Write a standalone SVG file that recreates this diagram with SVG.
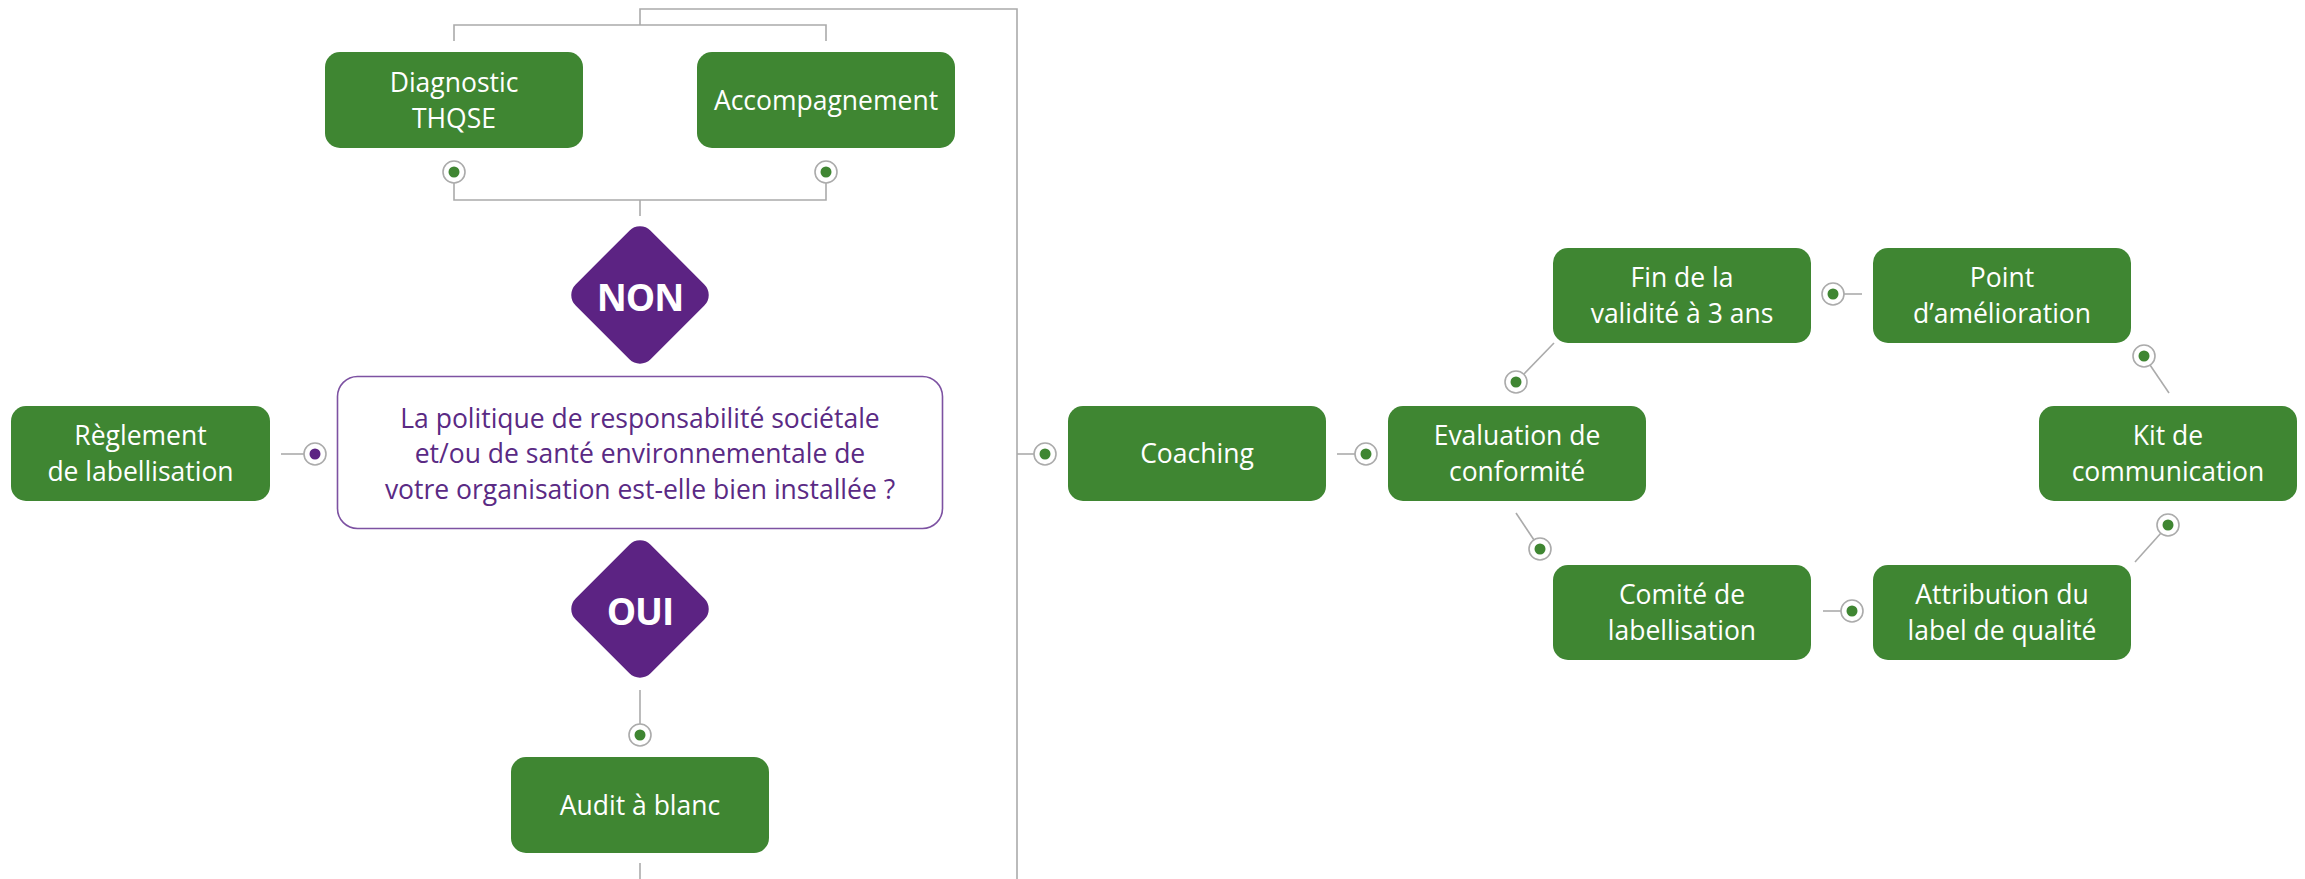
<svg xmlns="http://www.w3.org/2000/svg" width="2305" height="879" viewBox="0 0 2305 879">
<style>
.box{fill:#3f8632}
.lbl{font-family:"Open Sans","Liberation Sans",sans-serif;font-size:26.5px;fill:#ffffff;text-anchor:middle}
.q{font-family:"Open Sans","Liberation Sans",sans-serif;font-size:26.5px;fill:#5a2a84;text-anchor:middle}
.dia{fill:#5c2383}
.dl{font-family:"Open Sans","Liberation Sans",sans-serif;font-size:37px;font-weight:bold;fill:#ffffff;text-anchor:middle;letter-spacing:-1px}
.ln{fill:none;stroke:#ababab;stroke-width:1.6}
.ring{fill:#ffffff;stroke:#ababab;stroke-width:1.6}
.dot{fill:#3f8632}
.dotp{fill:#5c2383}
</style>
<defs>
<g id="ringG"><circle class="ring" r="11"/><circle class="dot" r="5.5"/></g>
</defs>
<rect width="2305" height="879" fill="#ffffff"/>
<g id="connectors">
<path class="ln" d="M454,41 V25 H826 V41 M640,25 V9 H1017 V879"/>
<path class="ln" d="M454,183 V200 H826 V183 M640,200 V216"/>
<path class="ln" d="M281,454 H304"/>
<path class="ln" d="M640,690 V724"/>
<path class="ln" d="M640,863 V879"/>
<path class="ln" d="M1017,454 H1034"/>
<path class="ln" d="M1337,454 H1355"/>
<path class="ln" d="M1524,374 L1554,343"/>
<path class="ln" d="M1516,513 L1534,540"/>
<path class="ln" d="M1844,294 H1862"/>
<path class="ln" d="M1823,611 H1841"/>
<path class="ln" d="M2150,365 L2169,393"/>
<path class="ln" d="M2161,533 L2135,562"/>
<use href="#ringG" x="454" y="172"/>
<use href="#ringG" x="826" y="172"/>
<g><circle class="ring" cx="315" cy="454" r="11"/><circle class="dotp" cx="315" cy="454" r="5.5"/></g>
<use href="#ringG" x="640" y="735"/>
<use href="#ringG" x="1045" y="454"/>
<use href="#ringG" x="1366" y="454"/>
<use href="#ringG" x="1516" y="382"/>
<use href="#ringG" x="1540" y="549"/>
<use href="#ringG" x="1833" y="294"/>
<use href="#ringG" x="1852" y="611"/>
<use href="#ringG" x="2144" y="356"/>
<use href="#ringG" x="2168" y="525"/>
</g>
<g id="diagnostic"><rect class="box" x="325" y="52" width="258" height="96" rx="15"/><text class="lbl" x="454" y="92">Diagnostic</text><text class="lbl" x="454" y="127.5">THQSE</text></g>
<g id="accompagnement"><rect class="box" x="697" y="52" width="258" height="96" rx="15"/><text class="lbl" x="826" y="109.5">Accompagnement</text></g>
<g id="non"><rect class="dia" x="-53" y="-53" width="106" height="106" rx="15" transform="translate(640,295) rotate(45)"/><text class="dl" x="640" y="311">NON</text></g>
<g id="question"><rect x="337.5" y="376.5" width="605" height="152" rx="20" fill="#ffffff" stroke="#7d52a2" stroke-width="1.6"/><text class="q" x="640" y="427.5">La politique de responsabilité sociétale</text><text class="q" x="640" y="463">et/ou de santé environnementale de</text><text class="q" x="640" y="498.5">votre organisation est-elle bien installée ?</text></g>
<g id="reglement"><rect class="box" x="11" y="406" width="259" height="95" rx="15"/><text class="lbl" x="140.5" y="445">Règlement</text><text class="lbl" x="140.5" y="480.5">de labellisation</text></g>
<g id="oui"><rect class="dia" x="-53" y="-53" width="106" height="106" rx="15" transform="translate(640,609) rotate(45)"/><text class="dl" x="640" y="625">OUI</text></g>
<g id="audit"><rect class="box" x="511" y="757" width="258" height="96" rx="15"/><text class="lbl" x="640" y="814.5">Audit à blanc</text></g>
<g id="coaching"><rect class="box" x="1068" y="406" width="258" height="95" rx="15"/><text class="lbl" x="1197" y="463">Coaching</text></g>
<g id="evaluation"><rect class="box" x="1388" y="406" width="258" height="95" rx="15"/><text class="lbl" x="1517" y="445">Evaluation de</text><text class="lbl" x="1517" y="480.5">conformité</text></g>
<g id="fin"><rect class="box" x="1553" y="248" width="258" height="95" rx="15"/><text class="lbl" x="1682" y="287">Fin de la</text><text class="lbl" x="1682" y="322.5">validité à 3 ans</text></g>
<g id="comite"><rect class="box" x="1553" y="565" width="258" height="95" rx="15"/><text class="lbl" x="1682" y="604">Comité de</text><text class="lbl" x="1682" y="639.5">labellisation</text></g>
<g id="point"><rect class="box" x="1873" y="248" width="258" height="95" rx="15"/><text class="lbl" x="2002" y="287">Point</text><text class="lbl" x="2002" y="322.5">d’amélioration</text></g>
<g id="kit"><rect class="box" x="2039" y="406" width="258" height="95" rx="15"/><text class="lbl" x="2168" y="445">Kit de</text><text class="lbl" x="2168" y="480.5">communication</text></g>
<g id="attribution"><rect class="box" x="1873" y="565" width="258" height="95" rx="15"/><text class="lbl" x="2002" y="604">Attribution du</text><text class="lbl" x="2002" y="639.5">label de qualité</text></g>
</svg>
